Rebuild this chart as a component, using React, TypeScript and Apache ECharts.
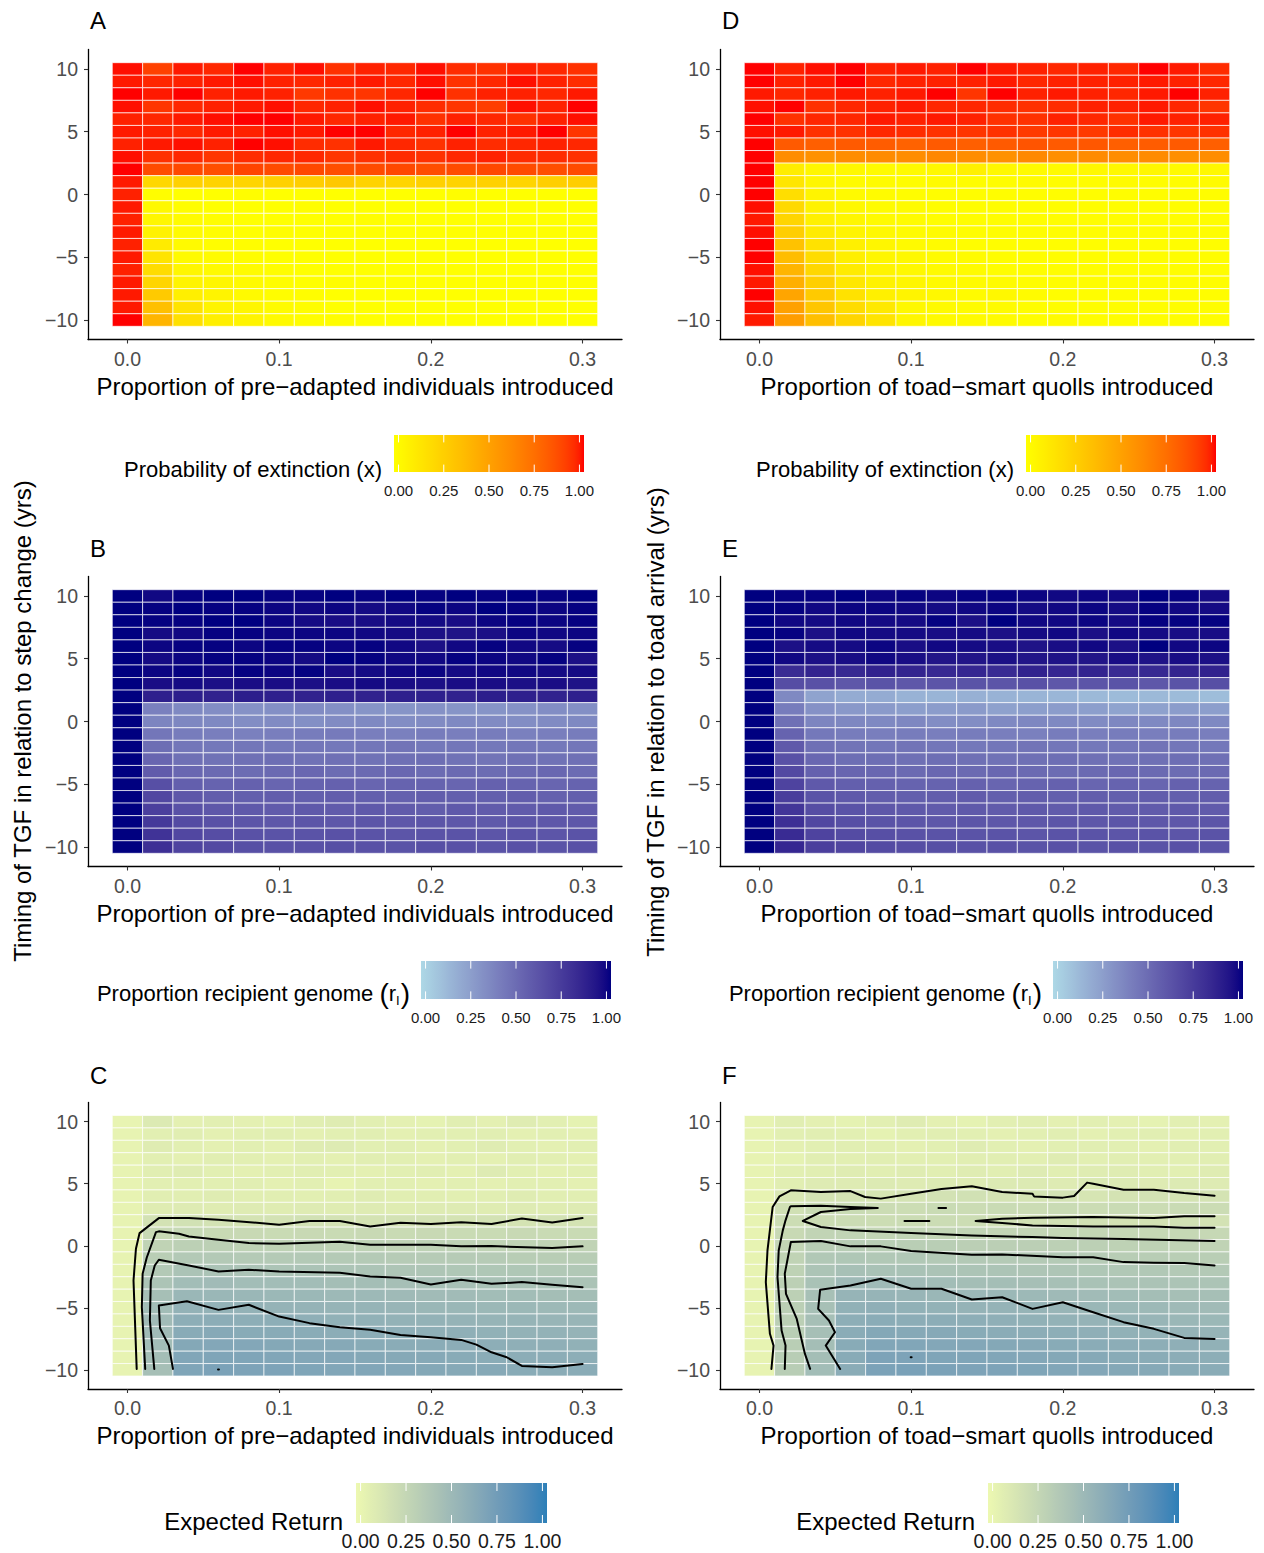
import React, { useEffect, useRef } from 'react';
import * as echarts from 'echarts';

// ---------- DATA ----------
const xValues = [0, 0.02, 0.04, 0.06, 0.08, 0.1, 0.12, 0.14, 0.16, 0.18, 0.2, 0.22, 0.24, 0.26, 0.28, 0.3];
const yValues = [10, 9, 8, 7, 6, 5, 4, 3, 2, 1, 0, -1, -2, -3, -4, -5, -6, -7, -8, -9, -10];
const xTicks = [0, 0.1, 0.2, 0.3];
const xTickLabels = ['0.0', '0.1', '0.2', '0.3'];
const yTicks = [-10, -5, 0, 5, 10];
const yTickLabels = ['\u221210', '\u22125', '0', '5', '10'];
const legendTicks = [0, 0.25, 0.5, 0.75, 1];
const legendTickLabels = ['0.00', '0.25', '0.50', '0.75', '1.00'];

// Panel A: probability of extinction, pre-adapted individuals (rows y=10 .. -10)
const extinctionA = [
  [0.99, 0.90, 0.98, 0.96, 1.00, 0.97, 0.99, 0.94, 0.97, 0.96, 0.99, 0.95, 0.94, 0.97, 0.96, 0.94],
  [0.98, 0.96, 0.97, 0.98, 0.99, 0.97, 0.96, 0.97, 0.98, 0.96, 0.99, 0.94, 0.96, 0.99, 0.97, 0.95],
  [1.00, 0.98, 1.00, 0.97, 0.98, 0.97, 0.92, 0.94, 0.93, 0.96, 1.00, 0.94, 0.97, 0.97, 0.96, 0.98],
  [0.99, 0.93, 0.96, 0.97, 0.98, 0.99, 0.96, 0.97, 0.99, 0.97, 0.95, 0.93, 0.91, 0.99, 0.97, 1.00],
  [0.97, 0.96, 0.98, 0.99, 1.00, 1.00, 0.98, 0.96, 0.97, 0.98, 0.94, 0.97, 0.96, 0.94, 0.97, 0.99],
  [0.98, 0.97, 0.96, 0.98, 0.97, 0.99, 0.98, 1.00, 1.00, 0.96, 0.97, 1.00, 0.97, 0.98, 1.00, 0.93],
  [0.97, 0.98, 0.99, 0.97, 1.00, 0.99, 0.95, 0.94, 0.98, 0.96, 0.94, 0.97, 0.95, 0.96, 0.97, 0.96],
  [0.99, 0.94, 0.96, 0.93, 0.95, 0.96, 0.96, 0.93, 0.94, 0.95, 0.94, 0.96, 0.97, 0.95, 0.95, 0.94],
  [1.00, 0.87, 0.88, 0.86, 0.89, 0.87, 0.88, 0.86, 0.87, 0.88, 0.86, 0.87, 0.88, 0.87, 0.86, 0.87],
  [0.98, 0.22, 0.25, 0.24, 0.23, 0.25, 0.27, 0.30, 0.24, 0.23, 0.25, 0.24, 0.25, 0.23, 0.26, 0.27],
  [0.97, 0.01, 0.00, 0.00, 0.01, 0.00, 0.00, 0.00, 0.00, 0.00, 0.00, 0.01, 0.00, 0.00, 0.00, 0.00],
  [0.98, 0.04, 0.01, 0.00, 0.00, 0.00, 0.01, 0.00, 0.00, 0.00, 0.00, 0.00, 0.00, 0.00, 0.00, 0.00],
  [0.97, 0.05, 0.02, 0.01, 0.00, 0.00, 0.00, 0.00, 0.01, 0.00, 0.00, 0.00, 0.00, 0.00, 0.00, 0.00],
  [0.98, 0.07, 0.02, 0.01, 0.00, 0.01, 0.00, 0.00, 0.00, 0.00, 0.00, 0.00, 0.00, 0.00, 0.00, 0.00],
  [0.97, 0.11, 0.03, 0.01, 0.01, 0.00, 0.00, 0.00, 0.00, 0.00, 0.00, 0.00, 0.00, 0.00, 0.00, 0.00],
  [0.98, 0.15, 0.03, 0.02, 0.01, 0.00, 0.00, 0.00, 0.00, 0.00, 0.00, 0.00, 0.00, 0.00, 0.00, 0.00],
  [0.97, 0.19, 0.05, 0.03, 0.02, 0.01, 0.00, 0.00, 0.00, 0.00, 0.00, 0.00, 0.00, 0.00, 0.00, 0.00],
  [0.98, 0.23, 0.06, 0.05, 0.03, 0.01, 0.00, 0.01, 0.00, 0.00, 0.00, 0.00, 0.00, 0.00, 0.00, 0.00],
  [0.98, 0.29, 0.09, 0.06, 0.03, 0.01, 0.01, 0.00, 0.00, 0.00, 0.00, 0.00, 0.00, 0.00, 0.00, 0.00],
  [0.98, 0.34, 0.15, 0.06, 0.05, 0.02, 0.01, 0.00, 0.00, 0.00, 0.00, 0.00, 0.00, 0.00, 0.00, 0.00],
  [1.00, 0.40, 0.17, 0.09, 0.06, 0.03, 0.01, 0.01, 0.00, 0.00, 0.00, 0.00, 0.00, 0.00, 0.00, 0.00],
];

// Panel D: probability of extinction, toad-smart quolls
const extinctionD = [
  [1.00, 0.97, 0.99, 1.00, 0.97, 0.98, 0.97, 1.00, 0.98, 0.97, 0.96, 0.97, 0.96, 1.00, 0.98, 0.95],
  [1.00, 0.97, 0.98, 1.00, 0.96, 0.97, 0.97, 0.97, 0.98, 0.96, 0.97, 0.97, 0.97, 0.98, 0.97, 0.96],
  [0.98, 0.96, 0.97, 0.98, 0.97, 0.98, 1.00, 0.93, 1.00, 0.97, 0.98, 0.97, 0.96, 0.98, 1.00, 0.97],
  [0.99, 1.00, 0.94, 0.96, 0.97, 0.98, 0.96, 0.96, 0.95, 0.94, 0.95, 0.97, 0.97, 0.98, 0.96, 0.93],
  [1.00, 0.94, 0.96, 0.96, 0.98, 0.97, 0.98, 0.97, 0.94, 0.94, 0.97, 0.96, 0.94, 0.98, 0.97, 0.97],
  [0.99, 0.98, 0.94, 0.94, 0.96, 0.95, 0.94, 0.93, 0.94, 0.92, 0.93, 0.92, 0.95, 0.94, 0.93, 0.94],
  [1.00, 0.82, 0.80, 0.82, 0.81, 0.79, 0.82, 0.80, 0.82, 0.84, 0.82, 0.83, 0.80, 0.81, 0.82, 0.80],
  [1.00, 0.60, 0.58, 0.60, 0.61, 0.60, 0.63, 0.60, 0.58, 0.62, 0.59, 0.61, 0.60, 0.61, 0.59, 0.60],
  [1.00, 0.10, 0.05, 0.04, 0.03, 0.03, 0.04, 0.08, 0.04, 0.03, 0.03, 0.04, 0.04, 0.05, 0.03, 0.04],
  [1.00, 0.14, 0.05, 0.02, 0.02, 0.01, 0.02, 0.01, 0.01, 0.02, 0.01, 0.01, 0.02, 0.01, 0.01, 0.02],
  [1.00, 0.18, 0.06, 0.03, 0.02, 0.01, 0.01, 0.01, 0.01, 0.01, 0.01, 0.01, 0.01, 0.01, 0.01, 0.01],
  [0.99, 0.21, 0.07, 0.04, 0.02, 0.02, 0.01, 0.01, 0.01, 0.01, 0.01, 0.01, 0.01, 0.01, 0.01, 0.01],
  [0.98, 0.23, 0.08, 0.05, 0.03, 0.02, 0.01, 0.01, 0.01, 0.01, 0.01, 0.01, 0.01, 0.01, 0.01, 0.01],
  [0.99, 0.27, 0.11, 0.06, 0.04, 0.02, 0.02, 0.01, 0.01, 0.01, 0.01, 0.01, 0.01, 0.01, 0.01, 0.01],
  [1.00, 0.33, 0.16, 0.08, 0.05, 0.03, 0.02, 0.01, 0.01, 0.01, 0.01, 0.01, 0.01, 0.01, 0.01, 0.01],
  [1.00, 0.36, 0.19, 0.09, 0.05, 0.04, 0.02, 0.02, 0.01, 0.01, 0.01, 0.01, 0.01, 0.01, 0.01, 0.01],
  [0.99, 0.40, 0.22, 0.11, 0.06, 0.04, 0.03, 0.02, 0.01, 0.01, 0.01, 0.01, 0.01, 0.01, 0.01, 0.01],
  [0.98, 0.43, 0.26, 0.13, 0.07, 0.05, 0.03, 0.02, 0.02, 0.01, 0.01, 0.01, 0.01, 0.01, 0.01, 0.01],
  [1.00, 0.48, 0.29, 0.16, 0.08, 0.06, 0.04, 0.02, 0.04, 0.02, 0.01, 0.01, 0.01, 0.01, 0.01, 0.01],
  [0.99, 0.50, 0.31, 0.19, 0.12, 0.04, 0.03, 0.02, 0.02, 0.01, 0.01, 0.01, 0.01, 0.01, 0.01, 0.01],
  [0.98, 0.52, 0.35, 0.23, 0.15, 0.05, 0.03, 0.03, 0.02, 0.01, 0.02, 0.01, 0.01, 0.01, 0.01, 0.01],
];

// Panel B: proportion recipient genome, pre-adapted individuals
const recipientB = [
  [1.00, 0.97, 0.99, 1.00, 1.00, 0.99, 0.99, 1.00, 0.99, 1.00, 0.99, 1.00, 0.99, 1.00, 0.99, 1.00],
  [1.00, 0.99, 1.00, 0.99, 0.99, 0.98, 0.97, 0.98, 0.96, 0.97, 0.99, 0.98, 1.00, 0.99, 0.98, 0.99],
  [1.00, 0.99, 0.99, 1.00, 1.00, 0.98, 0.96, 0.95, 0.95, 0.96, 0.96, 0.95, 0.98, 0.99, 0.98, 0.99],
  [1.00, 0.96, 0.97, 0.99, 0.99, 0.98, 0.98, 0.98, 0.97, 0.96, 0.94, 0.93, 0.94, 0.98, 0.97, 0.98],
  [1.00, 0.98, 0.99, 0.99, 0.98, 0.99, 0.99, 0.98, 0.99, 0.97, 0.94, 0.97, 0.99, 0.97, 0.96, 0.99],
  [1.00, 0.96, 0.98, 0.99, 0.99, 0.98, 0.96, 1.00, 0.99, 0.97, 0.97, 0.99, 0.98, 0.97, 0.99, 0.94],
  [1.00, 0.98, 0.99, 0.97, 0.99, 0.98, 0.99, 0.95, 0.96, 0.97, 0.98, 0.96, 0.97, 0.97, 0.96, 0.96],
  [1.00, 0.95, 0.96, 0.94, 0.95, 0.95, 0.94, 0.95, 0.96, 0.95, 0.94, 0.95, 0.95, 0.94, 0.95, 0.93],
  [1.00, 0.87, 0.88, 0.86, 0.88, 0.87, 0.86, 0.87, 0.86, 0.87, 0.87, 0.86, 0.88, 0.87, 0.86, 0.87],
  [1.00, 0.40, 0.36, 0.34, 0.32, 0.33, 0.35, 0.33, 0.31, 0.31, 0.32, 0.31, 0.31, 0.32, 0.34, 0.33],
  [1.00, 0.38, 0.37, 0.36, 0.34, 0.35, 0.33, 0.35, 0.36, 0.34, 0.35, 0.36, 0.35, 0.34, 0.35, 0.36],
  [1.00, 0.45, 0.42, 0.41, 0.40, 0.41, 0.42, 0.43, 0.41, 0.40, 0.42, 0.41, 0.42, 0.40, 0.41, 0.42],
  [1.00, 0.49, 0.45, 0.44, 0.45, 0.44, 0.45, 0.44, 0.45, 0.46, 0.44, 0.45, 0.44, 0.45, 0.44, 0.45],
  [1.00, 0.53, 0.48, 0.47, 0.48, 0.49, 0.47, 0.48, 0.47, 0.48, 0.49, 0.47, 0.46, 0.48, 0.47, 0.48],
  [1.00, 0.58, 0.52, 0.51, 0.50, 0.51, 0.52, 0.50, 0.51, 0.52, 0.50, 0.51, 0.50, 0.51, 0.52, 0.50],
  [1.00, 0.64, 0.56, 0.54, 0.55, 0.53, 0.54, 0.55, 0.53, 0.54, 0.54, 0.53, 0.55, 0.54, 0.53, 0.54],
  [1.00, 0.68, 0.60, 0.57, 0.56, 0.57, 0.56, 0.57, 0.56, 0.55, 0.57, 0.56, 0.56, 0.57, 0.55, 0.56],
  [1.00, 0.72, 0.63, 0.60, 0.59, 0.58, 0.59, 0.58, 0.59, 0.58, 0.57, 0.59, 0.58, 0.58, 0.59, 0.58],
  [1.00, 0.75, 0.66, 0.63, 0.61, 0.60, 0.61, 0.60, 0.61, 0.60, 0.61, 0.60, 0.59, 0.61, 0.60, 0.60],
  [1.00, 0.78, 0.68, 0.65, 0.63, 0.62, 0.62, 0.63, 0.62, 0.61, 0.62, 0.62, 0.61, 0.62, 0.61, 0.62],
  [1.00, 0.80, 0.70, 0.67, 0.64, 0.63, 0.63, 0.64, 0.63, 0.62, 0.64, 0.63, 0.62, 0.63, 0.62, 0.63],
];

// Panel E: proportion recipient genome, toad-smart quolls
const recipientE = [
  [1.00, 0.99, 0.99, 1.00, 0.98, 0.99, 0.98, 0.99, 0.99, 0.98, 0.97, 0.98, 0.97, 1.00, 0.99, 0.96],
  [1.00, 0.99, 0.97, 0.98, 0.98, 0.97, 0.96, 0.97, 0.98, 0.96, 0.97, 0.98, 0.96, 0.99, 0.97, 0.96],
  [1.00, 0.97, 0.96, 0.97, 0.96, 0.96, 0.99, 0.94, 1.00, 0.97, 0.97, 0.98, 0.96, 0.99, 0.99, 0.99],
  [1.00, 0.99, 0.94, 0.97, 0.96, 0.96, 0.95, 0.96, 0.94, 0.96, 0.97, 0.94, 0.97, 0.96, 0.95, 0.95],
  [1.00, 0.94, 0.96, 0.96, 0.98, 0.95, 0.97, 0.96, 0.95, 0.93, 0.95, 0.97, 0.94, 1.00, 0.97, 0.98],
  [1.00, 0.97, 0.94, 0.95, 0.97, 0.95, 0.92, 0.92, 0.94, 0.92, 0.93, 0.92, 0.95, 0.93, 0.95, 0.94],
  [1.00, 0.82, 0.85, 0.83, 0.86, 0.85, 0.83, 0.84, 0.82, 0.86, 0.84, 0.85, 0.82, 0.83, 0.85, 0.86],
  [1.00, 0.65, 0.63, 0.60, 0.62, 0.60, 0.61, 0.62, 0.61, 0.63, 0.60, 0.61, 0.62, 0.60, 0.62, 0.64],
  [1.00, 0.36, 0.24, 0.20, 0.20, 0.17, 0.16, 0.18, 0.17, 0.16, 0.15, 0.14, 0.13, 0.14, 0.13, 0.12],
  [1.00, 0.42, 0.32, 0.29, 0.28, 0.26, 0.27, 0.28, 0.25, 0.26, 0.27, 0.26, 0.24, 0.25, 0.27, 0.26],
  [1.00, 0.48, 0.38, 0.37, 0.36, 0.37, 0.34, 0.34, 0.36, 0.37, 0.36, 0.35, 0.37, 0.36, 0.37, 0.36],
  [1.00, 0.54, 0.44, 0.42, 0.41, 0.42, 0.41, 0.42, 0.41, 0.40, 0.42, 0.41, 0.42, 0.41, 0.42, 0.41],
  [1.00, 0.59, 0.48, 0.46, 0.45, 0.46, 0.45, 0.44, 0.45, 0.46, 0.45, 0.44, 0.45, 0.46, 0.45, 0.44],
  [1.00, 0.63, 0.52, 0.49, 0.49, 0.48, 0.49, 0.48, 0.47, 0.48, 0.49, 0.48, 0.47, 0.48, 0.49, 0.48],
  [1.00, 0.67, 0.55, 0.53, 0.52, 0.51, 0.52, 0.51, 0.52, 0.51, 0.50, 0.51, 0.52, 0.51, 0.50, 0.51],
  [1.00, 0.70, 0.59, 0.56, 0.55, 0.54, 0.54, 0.55, 0.53, 0.54, 0.55, 0.53, 0.54, 0.53, 0.55, 0.54],
  [1.00, 0.73, 0.62, 0.59, 0.57, 0.56, 0.57, 0.58, 0.56, 0.57, 0.56, 0.57, 0.56, 0.57, 0.56, 0.57],
  [1.00, 0.77, 0.65, 0.62, 0.60, 0.59, 0.58, 0.59, 0.58, 0.59, 0.58, 0.59, 0.58, 0.58, 0.59, 0.58],
  [1.00, 0.80, 0.68, 0.64, 0.62, 0.61, 0.60, 0.61, 0.60, 0.60, 0.61, 0.60, 0.61, 0.60, 0.60, 0.61],
  [1.00, 0.82, 0.70, 0.66, 0.64, 0.63, 0.62, 0.62, 0.62, 0.61, 0.62, 0.62, 0.61, 0.62, 0.61, 0.62],
  [1.00, 0.84, 0.72, 0.69, 0.66, 0.65, 0.64, 0.63, 0.63, 0.62, 0.63, 0.62, 0.63, 0.62, 0.63, 0.62],
];

// Panel C: expected return, pre-adapted individuals
const returnC = [
  [0.03, 0.11, 0.06, 0.07, 0.06, 0.05, 0.08, 0.09, 0.07, 0.06, 0.05, 0.08, 0.06, 0.09, 0.07, 0.05],
  [0.04, 0.07, 0.08, 0.06, 0.07, 0.08, 0.06, 0.07, 0.08, 0.06, 0.07, 0.07, 0.08, 0.06, 0.07, 0.06],
  [0.04, 0.09, 0.07, 0.06, 0.07, 0.06, 0.09, 0.10, 0.07, 0.08, 0.06, 0.07, 0.09, 0.07, 0.06, 0.07],
  [0.04, 0.07, 0.06, 0.08, 0.07, 0.06, 0.07, 0.06, 0.08, 0.07, 0.06, 0.07, 0.06, 0.08, 0.07, 0.06],
  [0.04, 0.08, 0.09, 0.07, 0.06, 0.07, 0.08, 0.07, 0.06, 0.07, 0.08, 0.06, 0.10, 0.07, 0.06, 0.07],
  [0.04, 0.07, 0.07, 0.07, 0.08, 0.06, 0.07, 0.04, 0.07, 0.07, 0.06, 0.07, 0.06, 0.07, 0.07, 0.06],
  [0.04, 0.08, 0.08, 0.09, 0.08, 0.08, 0.07, 0.08, 0.09, 0.08, 0.08, 0.07, 0.08, 0.09, 0.08, 0.08],
  [0.04, 0.09, 0.10, 0.09, 0.10, 0.09, 0.10, 0.09, 0.10, 0.09, 0.10, 0.10, 0.09, 0.10, 0.09, 0.10],
  [0.04, 0.17, 0.18, 0.17, 0.16, 0.17, 0.18, 0.17, 0.16, 0.17, 0.17, 0.16, 0.17, 0.16, 0.17, 0.16],
  [0.04, 0.24, 0.25, 0.24, 0.24, 0.23, 0.24, 0.23, 0.24, 0.23, 0.24, 0.23, 0.23, 0.24, 0.23, 0.23],
  [0.04, 0.29, 0.31, 0.31, 0.30, 0.30, 0.31, 0.30, 0.30, 0.29, 0.30, 0.30, 0.29, 0.29, 0.29, 0.29],
  [0.04, 0.33, 0.37, 0.37, 0.36, 0.36, 0.37, 0.36, 0.36, 0.35, 0.35, 0.35, 0.35, 0.34, 0.34, 0.34],
  [0.04, 0.37, 0.42, 0.42, 0.42, 0.41, 0.42, 0.41, 0.41, 0.40, 0.40, 0.39, 0.39, 0.39, 0.38, 0.38],
  [0.04, 0.41, 0.47, 0.48, 0.47, 0.47, 0.47, 0.46, 0.46, 0.45, 0.44, 0.44, 0.43, 0.43, 0.43, 0.42],
  [0.04, 0.45, 0.52, 0.52, 0.52, 0.51, 0.51, 0.50, 0.50, 0.49, 0.48, 0.48, 0.47, 0.47, 0.46, 0.46],
  [0.04, 0.47, 0.56, 0.56, 0.56, 0.55, 0.55, 0.54, 0.54, 0.53, 0.52, 0.52, 0.51, 0.51, 0.50, 0.50],
  [0.04, 0.48, 0.59, 0.60, 0.59, 0.59, 0.58, 0.57, 0.57, 0.56, 0.56, 0.55, 0.54, 0.54, 0.53, 0.53],
  [0.04, 0.48, 0.62, 0.63, 0.62, 0.62, 0.61, 0.60, 0.60, 0.59, 0.58, 0.58, 0.57, 0.56, 0.56, 0.55],
  [0.04, 0.47, 0.64, 0.65, 0.65, 0.64, 0.63, 0.63, 0.62, 0.61, 0.61, 0.60, 0.59, 0.58, 0.58, 0.57],
  [0.04, 0.46, 0.66, 0.67, 0.67, 0.66, 0.65, 0.65, 0.64, 0.63, 0.63, 0.62, 0.61, 0.60, 0.60, 0.59],
  [0.04, 0.45, 0.67, 0.69, 0.68, 0.68, 0.67, 0.66, 0.66, 0.65, 0.64, 0.63, 0.63, 0.62, 0.61, 0.61],
];

// Panel F: expected return, toad-smart quolls
const returnF = [
  [0.04, 0.08, 0.06, 0.05, 0.07, 0.09, 0.06, 0.05, 0.07, 0.08, 0.06, 0.07, 0.06, 0.05, 0.07, 0.06],
  [0.04, 0.07, 0.08, 0.07, 0.05, 0.07, 0.08, 0.07, 0.06, 0.07, 0.08, 0.06, 0.07, 0.08, 0.06, 0.07],
  [0.04, 0.06, 0.07, 0.08, 0.07, 0.06, 0.07, 0.09, 0.07, 0.06, 0.07, 0.08, 0.07, 0.06, 0.08, 0.07],
  [0.04, 0.05, 0.08, 0.07, 0.08, 0.07, 0.07, 0.08, 0.08, 0.07, 0.09, 0.07, 0.08, 0.07, 0.07, 0.08],
  [0.04, 0.07, 0.08, 0.09, 0.08, 0.09, 0.08, 0.09, 0.08, 0.10, 0.08, 0.09, 0.09, 0.08, 0.07, 0.09],
  [0.04, 0.08, 0.10, 0.10, 0.11, 0.10, 0.11, 0.10, 0.11, 0.11, 0.10, 0.12, 0.11, 0.10, 0.11, 0.10],
  [0.04, 0.13, 0.16, 0.16, 0.15, 0.16, 0.17, 0.18, 0.16, 0.16, 0.17, 0.15, 0.16, 0.17, 0.16, 0.16],
  [0.04, 0.19, 0.23, 0.23, 0.22, 0.21, 0.23, 0.22, 0.23, 0.22, 0.23, 0.22, 0.23, 0.22, 0.23, 0.22],
  [0.04, 0.21, 0.22, 0.22, 0.21, 0.22, 0.22, 0.21, 0.19, 0.18, 0.18, 0.18, 0.17, 0.17, 0.18, 0.17],
  [0.04, 0.24, 0.28, 0.28, 0.27, 0.28, 0.27, 0.28, 0.27, 0.27, 0.26, 0.26, 0.26, 0.25, 0.25, 0.25],
  [0.04, 0.27, 0.34, 0.34, 0.33, 0.33, 0.33, 0.32, 0.32, 0.32, 0.31, 0.31, 0.30, 0.30, 0.29, 0.29],
  [0.04, 0.29, 0.38, 0.39, 0.38, 0.38, 0.37, 0.37, 0.36, 0.36, 0.36, 0.35, 0.34, 0.34, 0.33, 0.33],
  [0.04, 0.30, 0.41, 0.44, 0.43, 0.43, 0.42, 0.41, 0.41, 0.40, 0.40, 0.39, 0.38, 0.38, 0.37, 0.37],
  [0.04, 0.31, 0.43, 0.49, 0.49, 0.48, 0.47, 0.46, 0.46, 0.45, 0.44, 0.43, 0.42, 0.42, 0.41, 0.41],
  [0.04, 0.31, 0.44, 0.54, 0.54, 0.53, 0.52, 0.51, 0.51, 0.50, 0.49, 0.48, 0.47, 0.46, 0.45, 0.45],
  [0.04, 0.32, 0.44, 0.57, 0.58, 0.57, 0.56, 0.55, 0.55, 0.54, 0.53, 0.52, 0.51, 0.50, 0.49, 0.48],
  [0.04, 0.32, 0.45, 0.59, 0.61, 0.60, 0.60, 0.59, 0.58, 0.57, 0.56, 0.55, 0.54, 0.53, 0.52, 0.51],
  [0.04, 0.33, 0.45, 0.61, 0.64, 0.63, 0.63, 0.62, 0.61, 0.60, 0.59, 0.58, 0.57, 0.56, 0.55, 0.54],
  [0.04, 0.33, 0.46, 0.62, 0.66, 0.66, 0.65, 0.65, 0.64, 0.63, 0.62, 0.61, 0.60, 0.59, 0.58, 0.57],
  [0.04, 0.34, 0.46, 0.62, 0.68, 0.68, 0.67, 0.67, 0.66, 0.65, 0.64, 0.63, 0.62, 0.61, 0.60, 0.59],
  [0.04, 0.34, 0.47, 0.61, 0.69, 0.70, 0.69, 0.68, 0.68, 0.67, 0.66, 0.65, 0.64, 0.63, 0.62, 0.61],
];

// Contour lines of expected return, panel C ([x, y] points)
const contourC1 = [[0.0061, -9.93], [0.004, -2.8], [0.0056, -0.24], [0.008, 1.02], [0.0207, 2.23], [0.0405, 2.23], [0.06, 2.1], [0.1, 1.7], [0.12, 2.0], [0.14, 2.0], [0.16, 1.56], [0.18, 1.86], [0.2, 1.75], [0.22, 1.9], [0.24, 1.75], [0.26, 2.2], [0.28, 1.88], [0.3, 2.23]];
const contourC2 = [[0.0117, -9.93], [0.0095, -4.95], [0.01, -2.26], [0.0127, -0.97], [0.0188, 1.1], [0.0207, 1.16], [0.034, 0.97], [0.0405, 0.75], [0.06, 0.48], [0.08, 0.22], [0.1, 0.16], [0.14, 0.32], [0.16, 0.08], [0.2, 0.08], [0.22, -0.05], [0.24, -0.03], [0.28, -0.19], [0.3, -0.05]];
const contourC3 = [[0.0177, -9.93], [0.0148, -6.03], [0.0154, -2.8], [0.018, -1.59], [0.0207, -1.13], [0.0405, -1.59], [0.06, -2.07], [0.08, -1.94], [0.1, -2.07], [0.14, -2.18], [0.16, -2.48], [0.18, -2.58], [0.2, -3.12], [0.22, -2.75], [0.24, -3.07], [0.26, -2.93], [0.28, -3.15], [0.3, -3.34]];
const contourC4 = [[0.03, -9.93], [0.0273, -8.05], [0.0215, -6.65], [0.0207, -4.82], [0.0392, -4.47], [0.06, -5.17], [0.08, -4.76], [0.1, -5.71], [0.12, -6.24], [0.14, -6.57], [0.16, -6.78], [0.18, -7.19], [0.2, -7.38], [0.22, -7.59], [0.23, -7.97], [0.24, -8.59], [0.25, -8.99], [0.26, -9.69], [0.28, -9.8], [0.3, -9.53]];
const contourC5 = [[0.0597, -9.98], [0.0603, -9.98]];

// Contour lines of expected return, panel F
const contourF1 = [[0.0079, -9.93], [0.0093, -8.05], [0.0069, -7.1], [0.0042, -2.93], [0.0053, -0.38], [0.0087, 3.12], [0.0132, 3.98], [0.0207, 4.47], [0.0405, 4.33], [0.06, 4.41], [0.0696, 3.93], [0.08, 3.8], [0.1, 4.2], [0.12, 4.58], [0.14, 4.79], [0.16, 4.33], [0.18, 4.2], [0.181, 3.98], [0.2, 3.88], [0.2074, 4.01], [0.216, 5.09], [0.22, 5.0], [0.24, 4.52], [0.26, 4.52], [0.28, 4.25], [0.3, 4.04]];
const contourF2 = [[0.0167, -9.93], [0.0172, -8.05], [0.0146, -6.84], [0.0119, -2.53], [0.0127, -0.38], [0.0154, 1.24], [0.0172, 2.05], [0.0201, 3.12], [0.0207, 3.18], [0.0405, 3.23], [0.06, 3.12], [0.078, 3.04], [0.06, 2.96], [0.0405, 2.72], [0.0286, 2.0], [0.0405, 1.51], [0.06, 1.24], [0.1, 1.02], [0.14, 0.83], [0.18, 0.7], [0.2, 0.62], [0.24, 0.54], [0.3, 0.38]];
const contourF3 = [[0.0334, -9.93], [0.03, -8.72], [0.0246, -5.9], [0.0175, -3.88], [0.0167, -2.26], [0.0207, 0.3], [0.0405, 0.38], [0.06, -0.05], [0.08, -0.05], [0.1, -0.43], [0.14, -0.73], [0.16, -0.7], [0.2, -0.92], [0.22, -0.92], [0.24, -1.32], [0.26, -1.37], [0.28, -1.4], [0.3, -1.59]];
const contourF4 = [[0.0532, -9.93], [0.0437, -8.05], [0.0498, -6.97], [0.0458, -6.03], [0.0387, -5.09], [0.04, -3.55], [0.06, -3.2], [0.08, -2.66], [0.1, -3.47], [0.12, -3.47], [0.14, -4.33], [0.16, -4.15], [0.18, -5.09], [0.2, -4.55], [0.22, -5.36], [0.24, -6.16], [0.26, -6.7], [0.28, -7.43], [0.3, -7.51]];
const contourF5 = [[0.3, 2.37], [0.28, 2.37], [0.26, 2.23], [0.22, 2.31], [0.18, 2.26], [0.16, 2.18], [0.1425, 2.0], [0.16, 1.83], [0.18, 1.64], [0.22, 1.56], [0.26, 1.56], [0.28, 1.45], [0.3, 1.45]];
const contourF6 = [[0.0956, 2.0], [0.112, 2.0]];
const contourF7 = [[0.118, 3.04], [0.123, 3.04]];
const contourF8 = [[0.0997, -8.99], [0.1003, -8.99]];

// ---------- COLOUR SCALES (CIELAB interpolation as in ggplot2) ----------
const EXT_LOW = '#FFFF00', EXT_HIGH = '#FF0000';
const REC_LOW = '#ADD8E6', REC_HIGH = '#000080';
const RET_LOW = '#EDF8B1', RET_HIGH = '#2C7FB8';

function hexToRgb(h: string) {
  const n = parseInt(h.slice(1), 16);
  return [(n >> 16) & 255, (n >> 8) & 255, n & 255];
}
function toLin(c: number) { c /= 255; return c <= 0.04045 ? c / 12.92 : Math.pow((c + 0.055) / 1.055, 2.4); }
function fromLin(c: number) { const v = c <= 0.0031308 ? 12.92 * c : 1.055 * Math.pow(c, 1 / 2.4) - 0.055; return Math.max(0, Math.min(255, Math.round(v * 255))); }
const XN = 0.95047, YN = 1, ZN = 1.08883;
function fLab(t: number) { return t > 216 / 24389 ? Math.cbrt(t) : (24389 / 27 * t + 16) / 116; }
function fInv(t: number) { const t3 = t * t * t; return t3 > 216 / 24389 ? t3 : (116 * t - 16) / (24389 / 27); }
function rgbToLab(rgb: number[]) {
  const [r, g, b] = rgb.map(toLin);
  const x = r * 0.4124564 + g * 0.3575761 + b * 0.1804375;
  const y = r * 0.2126729 + g * 0.7151522 + b * 0.0721750;
  const z = r * 0.0193339 + g * 0.1191920 + b * 0.9503041;
  const fx = fLab(x / XN), fy = fLab(y / YN), fz = fLab(z / ZN);
  return [116 * fy - 16, 500 * (fx - fy), 200 * (fy - fz)];
}
function labToHex(lab: number[]) {
  const fy = (lab[0] + 16) / 116, fx = fy + lab[1] / 500, fz = fy - lab[2] / 200;
  const x = XN * fInv(fx), y = YN * fInv(fy), z = ZN * fInv(fz);
  const r = x * 3.2404542 + y * -1.5371385 + z * -0.4985314;
  const g = x * -0.9692660 + y * 1.8760108 + z * 0.0415560;
  const b = x * 0.0556434 + y * -0.2040259 + z * 1.0572252;
  return '#' + [r, g, b].map((c) => fromLin(c).toString(16).padStart(2, '0')).join('');
}
function makePal(low: string, high: string) {
  const a = rgbToLab(hexToRgb(low)), b = rgbToLab(hexToRgb(high));
  return (t: number) => {
    const u = Math.max(0, Math.min(1, t));
    return labToHex([a[0] + (b[0] - a[0]) * u, a[1] + (b[1] - a[1]) * u, a[2] + (b[2] - a[2]) * u]);
  };
}
const extPal = makePal(EXT_LOW, EXT_HIGH);
const recPal = makePal(REC_LOW, REC_HIGH);
const retPal = makePal(RET_LOW, RET_HIGH);

// ---------- LAYOUT ----------
const FONT = '"Liberation Sans", Arial, Helvetica, sans-serif';
const X_MIN = -0.026, X_MAX = 0.326, Y_MIN = -11.55, Y_MAX = 11.55;
const COL_OFFSET = 632;

const panels = [
  { letter: 'A', left: 88, top: 49.5, width: 534, height: 290, matrix: extinctionA, pal: extPal, contours: [] as number[][][], xTitle: 'Proportion of pre\u2212adapted individuals introduced', titleY: 386, letterY: 20 },
  { letter: 'B', left: 88, top: 576.5, width: 534, height: 290, matrix: recipientB, pal: recPal, contours: [] as number[][][], xTitle: 'Proportion of pre\u2212adapted individuals introduced', titleY: 913, letterY: 548 },
  { letter: 'C', left: 88, top: 1102.5, width: 534, height: 286.5, matrix: returnC, pal: retPal, contours: [contourC1, contourC2, contourC3, contourC4, contourC5], xTitle: 'Proportion of pre\u2212adapted individuals introduced', titleY: 1435, letterY: 1075 },
  { letter: 'D', left: 88 + COL_OFFSET, top: 49.5, width: 534, height: 290, matrix: extinctionD, pal: extPal, contours: [] as number[][][], xTitle: 'Proportion of toad\u2212smart quolls introduced', titleY: 386, letterY: 20 },
  { letter: 'E', left: 88 + COL_OFFSET, top: 576.5, width: 534, height: 290, matrix: recipientE, pal: recPal, contours: [] as number[][][], xTitle: 'Proportion of toad\u2212smart quolls introduced', titleY: 913, letterY: 548 },
  { letter: 'F', left: 88 + COL_OFFSET, top: 1102.5, width: 534, height: 286.5, matrix: returnF, pal: retPal, contours: [contourF1, contourF2, contourF3, contourF4, contourF5, contourF6, contourF7, contourF8], xTitle: 'Proportion of toad\u2212smart quolls introduced', titleY: 1435, letterY: 1075 },
];

function tickFormatter(ticks: number[], labels: string[]) {
  return (v: number) => {
    const i = ticks.findIndex((t) => Math.abs(t - v) < 1e-9);
    return i >= 0 ? labels[i] : '';
  };
}

function legendGraphics(x0: number, y0: number, w: number, h: number, pal: (t: number) => string, title: any, labelSize: number, labelY: number) {
  const stops: any[] = [];
  for (let i = 0; i <= 40; i++) stops.push({ offset: i / 40, color: pal(i / 40) });
  const inset = w * 0.024;
  const els: any[] = [
    { type: 'rect', shape: { x: x0, y: y0, width: w, height: h }, style: { fill: new echarts.graphic.LinearGradient(0, 0, 1, 0, stops) } },
  ];
  legendTicks.forEach((t, i) => {
    const tx = x0 + inset + t * (w - 2 * inset);
    els.push({ type: 'line', shape: { x1: tx, y1: y0, x2: tx, y2: y0 + h * 0.2 }, style: { stroke: '#FFFFFF', lineWidth: 1 } });
    els.push({ type: 'line', shape: { x1: tx, y1: y0 + h * 0.8, x2: tx, y2: y0 + h }, style: { stroke: '#FFFFFF', lineWidth: 1 } });
    els.push({ type: 'text', x: tx, y: labelY, style: { text: legendTickLabels[i], fontSize: labelSize, fontFamily: FONT, fill: '#1A1A1A', align: 'center', verticalAlign: 'middle' } });
  });
  els.push(title);
  return els;
}

function buildOption() {
  const grid = panels.map((p) => ({ left: p.left, top: p.top, width: p.width, height: p.height, containLabel: false, outerBoundsMode: 'none' }));
  const xAxis = panels.map((p, i) => ({
    gridIndex: i, type: 'value', min: X_MIN, max: X_MAX,
    axisLine: { show: true, onZero: false, lineStyle: { color: '#000000', width: 1.3 } },
    axisTick: { show: true, length: 4, customValues: xTicks, lineStyle: { color: '#333333', width: 1.1 } },
    axisLabel: { show: true, customValues: xTicks, formatter: tickFormatter(xTicks, xTickLabels), color: '#4D4D4D', fontSize: 19.5, fontFamily: FONT, margin: 9 },
    splitLine: { show: false },
  }));
  const yAxis = panels.map((p, i) => ({
    gridIndex: i, type: 'value', min: Y_MIN, max: Y_MAX,
    axisLine: { show: true, onZero: false, lineStyle: { color: '#000000', width: 1.3 } },
    axisTick: { show: true, length: 4, customValues: yTicks, lineStyle: { color: '#333333', width: 1.1 } },
    axisLabel: { show: true, customValues: yTicks, formatter: tickFormatter(yTicks, yTickLabels), color: '#4D4D4D', fontSize: 19.5, fontFamily: FONT, margin: 10 },
    splitLine: { show: false },
  }));

  const series: any[] = [];
  panels.forEach((p, i) => {
    const data: number[][] = [];
    yValues.forEach((y, r) => xValues.forEach((x, c) => data.push([x, y, p.matrix[r][c]])));
    const pal = p.pal;
    series.push({
      type: 'custom', xAxisIndex: i, yAxisIndex: i, data, encode: { x: 0, y: 1 }, silent: true, z: 2,
      renderItem: (params: any, api: any) => {
        const x = api.value(0), y = api.value(1), v = api.value(2);
        const p1 = api.coord([x - 0.01, y + 0.5]);
        const p2 = api.coord([x + 0.01, y - 0.5]);
        return {
          type: 'rect',
          shape: { x: p1[0], y: p1[1], width: p2[0] - p1[0], height: p2[1] - p1[1] },
          style: { fill: pal(v), stroke: 'rgba(255,255,255,0.85)', lineWidth: 0.8 },
        };
      },
    });
    p.contours.forEach((line) => {
      series.push({
        type: 'line', xAxisIndex: i, yAxisIndex: i, data: line, symbol: 'none', showSymbol: false, silent: true, z: 5,
        lineStyle: { color: '#000000', width: 2, cap: 'round', join: 'round' },
      });
    });
  });

  const graphic: any[] = [];
  panels.forEach((p) => {
    graphic.push({ type: 'text', x: p.left + 2, y: p.letterY, style: { text: p.letter, fontSize: 24, fontFamily: FONT, fill: '#000000', align: 'left', verticalAlign: 'middle' } });
    graphic.push({ type: 'text', x: p.left + p.width / 2, y: p.titleY, style: { text: p.xTitle, fontSize: 24, fontFamily: FONT, fill: '#000000', align: 'center', verticalAlign: 'middle' } });
  });
  graphic.push({ type: 'text', x: 22, y: 721, rotation: Math.PI / 2, style: { text: 'Timing of TGF in relation to step change (yrs)', fontSize: 24, fontFamily: FONT, fill: '#000000', align: 'center', verticalAlign: 'middle' } });
  graphic.push({ type: 'text', x: 22 + 633, y: 722, rotation: Math.PI / 2, style: { text: 'Timing of TGF in relation to toad arrival (yrs)', fontSize: 24, fontFamily: FONT, fill: '#000000', align: 'center', verticalAlign: 'middle' } });

  [0, COL_OFFSET].forEach((dx) => {
    // extinction legend
    graphic.push(...legendGraphics(394 + dx, 435, 190, 37, extPal,
      { type: 'text', x: 382 + dx, y: 469, style: { text: 'Probability of extinction (x)', fontSize: 22, fontFamily: FONT, fill: '#000000', align: 'right', verticalAlign: 'middle' } },
      15, 490));
    // recipient genome legend
    graphic.push(...legendGraphics(421 + dx, 961, 190, 38, recPal,
      {
        type: 'text', x: 410 + dx, y: 993,
        style: {
          text: '{m|Proportion recipient genome }{p|(}{m|r}{s|I}{p|)}', align: 'right', verticalAlign: 'middle', fontFamily: FONT, fill: '#000000',
          rich: {
            m: { fontSize: 22, fontFamily: FONT, fill: '#000000' },
            p: { fontSize: 28, fontFamily: FONT, fill: '#000000' },
            s: { fontSize: 13, fontFamily: FONT, fill: '#000000', verticalAlign: 'bottom', padding: [0, 1, 0, 0] },
          },
        },
      },
      15, 1017));
    // expected return legend
    graphic.push(...legendGraphics(356 + dx, 1483, 191, 40, retPal,
      { type: 'text', x: 343 + dx, y: 1521, style: { text: 'Expected Return', fontSize: 24, fontFamily: FONT, fill: '#000000', align: 'right', verticalAlign: 'middle' } },
      19.5, 1541));
  });

  return { animation: false, backgroundColor: '#FFFFFF', grid, xAxis, yAxis, series, graphic };
}

export default function App() {
  const ref = useRef<HTMLDivElement>(null);
  useEffect(() => {
    if (!ref.current) return;
    const chart = echarts.init(ref.current, null, { renderer: 'svg' });
    chart.setOption(buildOption() as any);
    return () => chart.dispose();
  }, []);
  return <div ref={ref} style={{ position: 'absolute', left: 0, top: 0, width: 1264, height: 1553 }} />;
}
